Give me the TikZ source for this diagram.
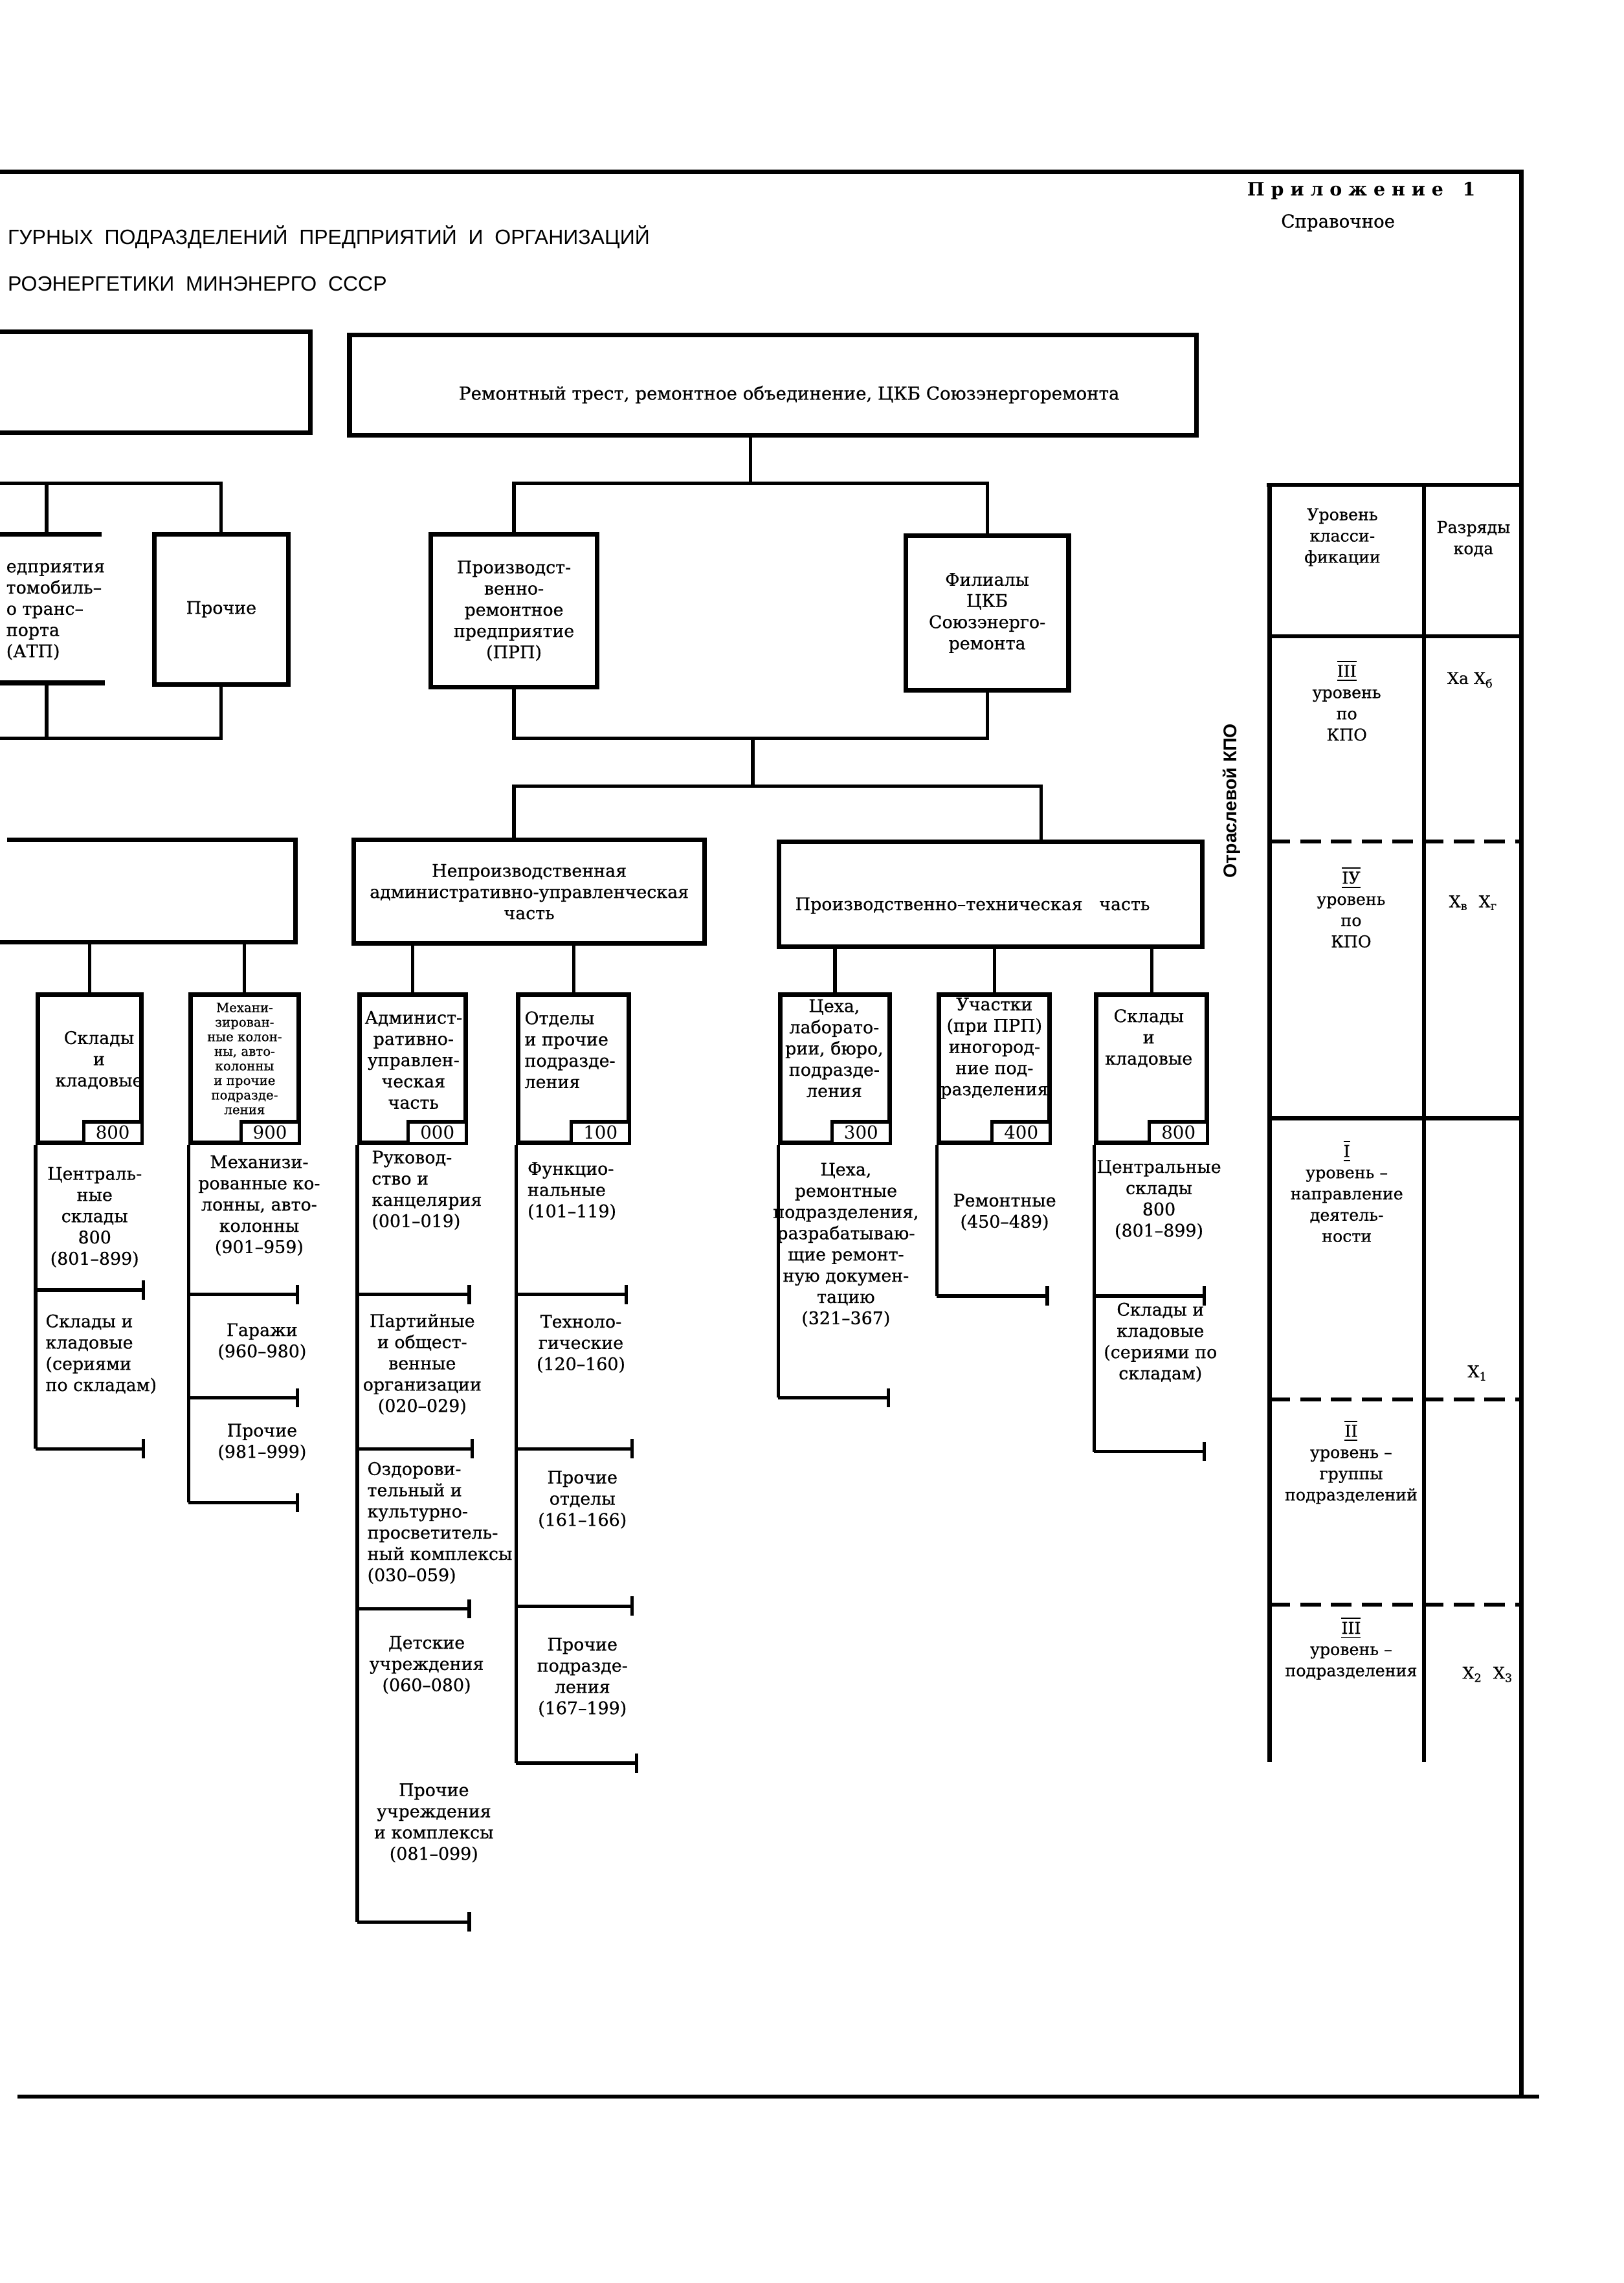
\documentclass[tikz,border=0pt]{standalone}
\usepackage{fontspec}
\setmainfont{DejaVu Serif}
\newfontfamily\heavy{DejaVu Serif}[FakeBold=0.6]
\newfontfamily\headfont{Liberation Sans}
\usetikzlibrary{arrows.meta}
\tikzset{>=latex}
\newcommand{\boxfont}{\heavy\fontsize{6.8}{8.3}\selectfont}
\newcommand{\tabfont}{\heavy\fontsize{6.4}{8.3}\selectfont}
\newcommand{\rn}[1]{$\overline{\underline{\hbox{#1}}}$}
\newcommand{\stub}[3]{\draw[endtick] (#1.south west |- 0,#2) -- ++(#3,0);}
\tikzset{
  box/.style={draw, line width=1.8pt, inner sep=0pt, align=center, font=\boxfont},
  codebox/.style={draw, line width=1.3pt, fill=white, minimum width=0.8cm, minimum height=0.3cm, inner sep=0pt, anchor=south east, font=\fontsize{7}{7}\selectfont},
  txt/.style={inner sep=0pt, align=center, font=\boxfont},
  tab/.style={inner sep=0pt, align=center, font=\tabfont},
  link/.style={line width=1.3pt},
  frame/.style={line width=1.7pt},
  endtick/.style={line width=1.3pt, -{Bar[width=7.5pt, line width=1.3pt]}},
  grid/.style={line width=1.6pt},
  dashgrid/.style={line width=1.6pt, dash pattern=on 8pt off 4pt},
}

\begin{document}
\begin{tikzpicture}[x=0.02cm, y=-0.02cm]
\useasboundingbox (0,0) rectangle (1115,1568);

\draw[frame] (0,118) -- (1045,118) -- (1045,1440);
\draw[frame] (12,1440) -- (1057,1440);

\node[anchor=west, inner sep=0pt, font=\headfont\fontsize{8.1}{8.1}\selectfont] (title1) at (5,163) {ГУРНЫХ~~ПОДРАЗДЕЛЕНИЙ~~ПРЕДПРИЯТИЙ~~И~~ОРГАНИЗАЦИЙ};
\node[anchor=west, inner sep=0pt, font=\headfont\fontsize{8.1}{8.1}\selectfont] (title2) at (5,195) {РОЭНЕРГЕТИКИ~~МИНЭНЕРГО~~СССР};
\node[inner sep=0pt, font=\bfseries\fontsize{7.2}{7.2}\selectfont] (app) at (935,131) {П р и л о ж е н и е ~ 1};
\node[inner sep=0pt, font=\heavy\fontsize{7}{7}\selectfont] (spr) at (919,153) {Справочное};

\draw[box] (0,228) -- (213,228) -- (213,297) -- (0,297);
\node[box, minimum width=11.64cm, minimum height=1.38cm] (trust) at (531,264.5) {};
\node[txt, font=\heavy\fontsize{7}{9}\selectfont] (trustt) at (542,271) {Ремонтный трест, ремонтное объединение, ЦКБ Союзэнергоремонта};

\node[box, minimum width=1.84cm, minimum height=2.06cm] (other) at (152,418.5) {Прочие};
\node[box, minimum width=2.28cm, minimum height=2.1cm] (prp) at (353,419.5) {Производст-\\венно-\\ремонтное\\предприятие\\(ПРП)};
\node[box, minimum width=2.24cm, minimum height=2.12cm] (filial) at (678,421) {Филиалы\\ЦКБ\\Союзэнерго-\\ремонта};
\draw[box] (0,367) -- (70,367);
\draw[box] (0,469) -- (72,469);
\node[txt, anchor=west, align=left] (atp) at (4,420) {едприятия\\томобиль–\\о транс–\\порта\\(АТП)};

\coordinate (j0) at (0,332);
\coordinate (atptop) at (32,367);
\coordinate (atpbot) at (32,469);
\draw[link] (j0) -- (other.north |- j0) -- (other.north);
\draw[link] (atptop |- j0) -- (atptop);
\coordinate (j1) at (515.5,332);
\draw[link] (prp.north) -- (prp.north |- j1) -- (filial.north |- j1) -- (filial.north);
\draw[link] (j1) -- (j1 |- trust.south);

\coordinate (j2) at (0,507);
\draw[link] (atpbot) -- (atpbot |- j2);
\draw[link] (other.south) -- (other.south |- j2) -- (j2);
\coordinate (j3) at (517,507);
\coordinate (j4) at (517,540);
\draw[link] (prp.south) -- (prp.south |- j3) -- (filial.south |- j3) -- (filial.south);
\draw[link] (j3) -- (j4);

\draw[box] (5,577) -- (203,577) -- (203,647) -- (0,647);
\coordinate (lm) at (100,647);
\node[box, minimum width=4.82cm, minimum height=1.42cm] (nonprod) at (363.5,612.5) {Непроизводственная\\административно-управленческая\\часть};
\node[box, minimum width=5.82cm, minimum height=1.44cm] (prod) at (680.5,614) {};
\node[txt] (prodt) at (668,622) {Производственно–техническая~~~часть};
\coordinate (np) at (353,577);
\coordinate (pp) at (715,578);
\draw[link] (np) -- (np |- j4) -- (pp |- j4) -- (pp);

\node[rotate=90, inner sep=0pt, font=\headfont\bfseries\fontsize{7.2}{7.2}\selectfont] (kpo) at (846,550) {Отраслевой КПО};

\node[box, minimum width=1.42cm, minimum height=2.04cm] (sk1) at (61.5,734) {};
\node[box, minimum width=1.48cm, minimum height=2.04cm] (mex) at (168,734) {};
\node[box, minimum width=1.46cm, minimum height=2.04cm] (adm) at (283.5,734) {};
\node[box, minimum width=1.52cm, minimum height=2.04cm] (otd) at (394,734) {};
\node[box, minimum width=1.5cm, minimum height=2.04cm] (cex) at (573.5,734) {};
\node[box, minimum width=1.52cm, minimum height=2.04cm] (uch) at (683,734) {};
\node[box, minimum width=1.52cm, minimum height=2.04cm] (sk2) at (791,734) {};

\node[codebox] (sk1c) at (sk1.south east) {800};
\node[codebox] (mexc) at (mex.south east) {900};
\node[codebox] (admc) at (adm.south east) {000};
\node[codebox] (otdc) at (otd.south east) {100};
\node[codebox] (cexc) at (cex.south east) {300};
\node[codebox] (uchc) at (uch.south east) {400};
\node[codebox] (sk2c) at (sk2.south east) {800};

\draw[link] (sk1.north) -- (sk1.north |- lm);
\draw[link] (mex.north) -- (mex.north |- lm);
\draw[link] (adm.north) -- (adm.north |- nonprod.south);
\draw[link] (otd.north) -- (otd.north |- nonprod.south);
\draw[link] (cex.north) -- (cex.north |- prod.south);
\draw[link] (uch.north) -- (uch.north |- prod.south);
\draw[link] (sk2.north) -- (sk2.north |- prod.south);

\node[txt] (sk1t) at (68,728) {Склады\\и\\кладовые};
\node[txt, font=\heavy\fontsize{5}{5.7}\selectfont] (mext) at (168,727) {Механи-\\зирован-\\ные колон-\\ны, авто-\\колонны\\и прочие\\подразде-\\ления};
\node[txt] (admt) at (284,728) {Админист-\\ративно-\\управлен-\\ческая\\часть};
\node[txt, anchor=west, align=left] (otdt) at (360,721) {Отделы\\и прочие\\подразде-\\ления};
\node[txt] (cext) at (573,720) {Цеха,\\лаборато-\\рии, бюро,\\подразде-\\ления};
\node[txt] (ucht) at (683,720) {Участки\\(при ПРП)\\иногород-\\ние под-\\разделения};
\node[txt] (sk2t) at (789,713) {Склады\\и\\кладовые};

\draw[link] (sk1.south west) -- (sk1.south west |- 0,995);
\draw[link] (mex.south west) -- (mex.south west |- 0,1032);
\draw[link] (adm.south west) -- (adm.south west |- 0,1320);
\draw[link] (otd.south west) -- (otd.south west |- 0,1211);
\draw[link] (cex.south west) -- (cex.south west |- 0,960);
\draw[link] (uch.south west) -- (uch.south west |- 0,890);
\draw[link] (sk2.south west) -- (sk2.south west |- 0,997);

\stub{sk1}{886}{75}
\stub{sk1}{995}{75}
\stub{mex}{889}{76}
\stub{mex}{960}{76}
\stub{mex}{1032}{76}
\stub{adm}{889}{78}
\stub{adm}{995}{80}
\stub{adm}{1105}{78}
\stub{adm}{1320}{78}
\stub{otd}{889}{77}
\stub{otd}{995}{81}
\stub{otd}{1103}{81}
\stub{otd}{1211}{84}
\stub{cex}{960}{77}
\stub{uch}{890}{77}
\stub{sk2}{890}{77}
\stub{sk2}{997}{77}

\node[txt] (sk1a) at (65,836) {Централь-\\ные\\склады\\800\\(801–899)};
\node[txt, anchor=west, align=left] (sk1b) at (31,930) {Склады и\\кладовые\\(сериями\\по складам)};
\node[txt] (mexa) at (178,828) {Механизи-\\рованные ко-\\лонны, авто-\\колонны\\(901–959)};
\node[txt] (mexb) at (180,921.5) {Гаражи\\(960–980)};
\node[txt] (mexd) at (180,990.5) {Прочие\\(981–999)};
\node[txt, anchor=west, align=left] (adma) at (255,817.5) {Руковод-\\ство и\\канцелярия\\(001–019)};
\node[txt] (admb) at (290,937) {Партийные\\и общест-\\венные\\организации\\(020–029)};
\node[txt, anchor=west, align=left] (admd) at (252,1046) {Оздорови-\\тельный и\\культурно-\\просветитель-\\ный комплексы\\(030–059)};
\node[txt] (adme) at (293,1143.5) {Детские\\учреждения\\(060–080)};
\node[txt] (admf) at (298,1252) {Прочие\\учреждения\\и комплексы\\(081–099)};
\node[txt, anchor=west, align=left] (otda) at (362,818) {Функцио-\\нальные\\(101–119)};
\node[txt] (otdb) at (399,923) {Техноло-\\гические\\(120–160)};
\node[txt] (otdd) at (400,1030) {Прочие\\отделы\\(161–166)};
\node[txt] (otde) at (400,1152) {Прочие\\подразде-\\ления\\(167–199)};
\node[txt] (cexa) at (581,855) {Цеха,\\ремонтные\\подразделения,\\разрабатываю-\\щие ремонт-\\ную докумен-\\тацию\\(321–367)};
\node[txt] (ucha) at (690,832.5) {Ремонтные\\(450–489)};
\node[txt] (sk2a) at (796,824) {Центральные\\склады\\800\\(801–899)};
\node[txt] (sk2b) at (797,922) {Склады и\\кладовые\\(сериями по\\складам)};

\draw[grid] (870,333) -- (1045,333);
\draw[grid] (872,333) -- (872,1210);
\draw[grid] (978,333) -- (978,1210);
\draw[grid] (872,437) -- (1045,437);
\draw[dashgrid] (872,578) -- (1045,578);
\draw[grid] (872,768) -- (1045,768);
\draw[dashgrid] (872,961) -- (1045,961);
\draw[dashgrid] (872,1102) -- (1045,1102);

\node[tab] (lvh) at (922,369) {Уровень\\класси-\\фикации};
\node[tab] (cdh) at (1012,370) {Разряды\\кода};
\node[tab] (lv3) at (925,481) {\rn{III}\\уровень\\по\\КПО};
\node[tab] (cd3) at (1010,467) {Xа X\textsubscript{б}};
\node[tab] (lv4) at (928,623) {\rn{IУ}\\уровень\\по\\КПО};
\node[tab] (cd4) at (1012,620) {X\textsubscript{в}~~X\textsubscript{г}};
\node[tab] (lv1) at (925,818) {\rn{I}\\уровень –\\направление\\деятель-\\ности};
\node[tab] (cd1) at (1015,943) {X\textsubscript{1}};
\node[tab] (lv2) at (928,1004) {\rn{II}\\уровень –\\группы\\подразделений};
\node[tab] (lv5) at (928,1132) {\rn{III}\\уровень –\\подразделения};
\node[tab] (cd5) at (1022,1150) {X\textsubscript{2}~~X\textsubscript{3}};
\end{tikzpicture}
\end{document}
